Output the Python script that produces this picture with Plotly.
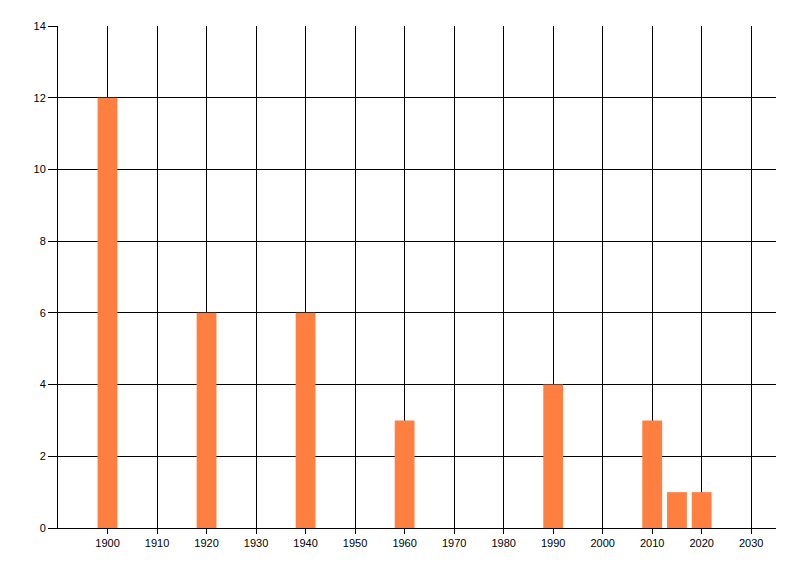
import plotly.graph_objects as go

years = [1900, 1920, 1940, 1960, 1990, 2010, 2015, 2020]
counts = [12, 6, 6, 3, 4, 3, 1, 1]
x_ticks = list(range(1900, 2031, 10))
y_ticks = list(range(0, 15, 2))

fig = go.Figure(go.Bar(x=years, y=counts, width=4, marker=dict(color="#ff7f40", line=dict(width=0))))

fig.update_layout(
    width=800, height=576,
    margin=dict(l=50, r=32, t=18, b=56),
    paper_bgcolor="white", plot_bgcolor="white",
    font=dict(family="Liberation Sans, Arial, sans-serif", size=11, color="black"),
    showlegend=False,
)
fig.update_xaxes(
    range=[1890, 2035], tickvals=x_ticks, ticktext=[str(t) for t in x_ticks],
    showgrid=True, gridcolor="black", gridwidth=1,
    showline=True, linecolor="black", linewidth=1,
    ticks="outside", ticklen=5, tickcolor="black", zeroline=False,
)
fig.update_yaxes(
    range=[0, 14], tickvals=y_ticks,
    showgrid=True, gridcolor="black", gridwidth=1,
    showline=True, linecolor="black", linewidth=1,
    ticks="outside", ticklen=9, tickcolor="black", zeroline=False,
)
fig.write_html("out.html")
